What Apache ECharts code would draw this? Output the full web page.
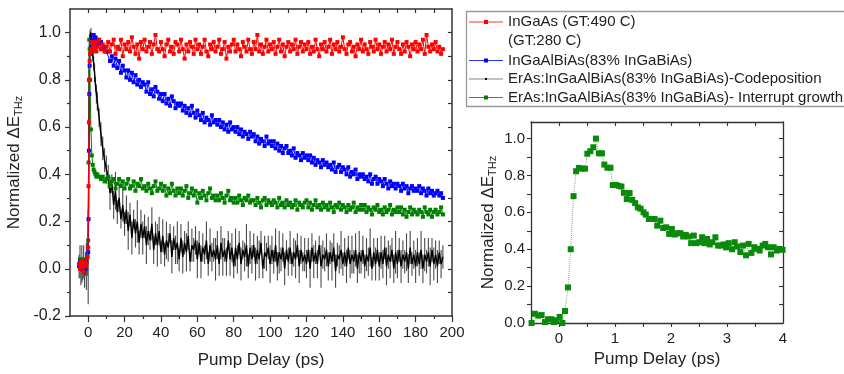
<!DOCTYPE html>
<html><head><meta charset="utf-8">
<script src="https://cdn.jsdelivr.net/npm/echarts@6/dist/echarts.min.js"></script>
<style>html,body{margin:0;padding:0;background:#fff}#c{width:844px;height:374px}</style>
</head><body><div id="c"></div>
<script>
// ---------- data ----------
const tMain = [-5,-4.5,-4,-3.5,-3,-2.5,-2,-1.5,-1,-0.5,0,0.2,0.4,0.6,0.8,1,1.5,2,2.5,3,3.5,4,4.5,5,6,7,8,9,10,
11,12,13,14,15,16,17,18,19,20,21,22,23,24,25,26,27,28,29,30,31,32,33,34,35,36,37,38,39,40,
41,42,43,44,45,46,47,48,49,50,51,52,53,54,55,56,57,58,59,60,61,62,63,64,65,66,67,68,69,70,
71,72,73,74,75,76,77,78,79,80,81,82,83,84,85,86,87,88,89,90,91,92,93,94,95,96,97,98,99,100,
101,102,103,104,105,106,107,108,109,110,111,112,113,114,115,116,117,118,119,120,
121,122,123,124,125,126,127,128,129,130,131,132,133,134,135,136,137,138,139,140,
141,142,143,144,145,146,147,148,149,150,151,152,153,154,155,156,157,158,159,160,
161,162,163,164,165,166,167,168,169,170,171,172,173,174,175,176,177,178,179,180,
181,182,183,184,185,186,187,188,189,190,191,192,193,194,195];

const redInGaAs = [0.02,0.00,0.03,0.01,0.02,-0.01,0.03,0.01,0.02,0.05,0.09,0.35,0.62,0.80,0.88,0.91,0.93,0.96,0.92,0.95,0.93,0.96,0.92,0.94,0.97,0.93,0.95,0.92,0.94,
0.96,0.92,0.95,0.97,0.91,0.94,0.93,0.97,0.90,0.95,
0.93,0.96,0.92,0.98,0.94,0.91,0.95,0.89,0.96,0.93,
0.97,0.92,0.94,0.96,0.91,0.95,0.99,0.93,0.92,0.96,
0.93,0.90,0.95,0.97,0.92,0.94,0.91,0.96,0.95,0.92,
0.97,0.93,0.89,0.95,0.92,0.96,0.94,0.91,0.97,0.93,
0.95,0.91,0.94,0.97,0.92,0.90,0.95,0.93,0.96,0.92,
0.94,0.97,0.91,0.93,0.96,0.89,0.94,0.92,0.95,0.97,
0.92,0.95,0.93,0.90,0.96,0.94,0.92,0.97,0.93,0.91,
0.96,0.93,0.99,0.92,0.95,0.91,0.94,0.97,0.92,0.95,
0.93,0.96,0.91,0.94,0.97,0.92,0.95,0.90,0.94,0.96,
0.92,0.95,0.93,0.97,0.91,0.94,0.96,0.92,0.95,0.93,
0.96,0.91,0.94,0.92,0.97,0.93,0.90,0.95,0.93,0.96,
0.92,0.94,0.97,0.91,0.95,0.93,0.96,0.92,0.94,0.98,
0.93,0.91,0.95,0.96,0.92,0.94,0.90,0.95,0.93,0.97,
0.92,0.95,0.93,0.91,0.96,0.94,0.92,0.97,0.93,0.95,
0.91,0.94,0.96,0.92,0.95,0.93,0.97,0.91,0.94,0.96,
0.93,0.91,0.95,0.92,0.96,0.94,0.90,0.95,0.93,0.96,
0.92,0.95,0.93,0.97,0.91,0.99,0.94,0.92,0.95,0.93,
0.96,0.92,0.94,0.91,0.93];

const blueInGaAlBiAs = [0.01,0.03,0.00,0.02,0.01,0.03,0.02,0.00,0.03,0.05,0.07,0.21,0.50,0.74,0.86,0.91,0.94,0.97,0.95,0.99,0.96,0.98,0.95,0.97,0.95,0.96,0.93,0.94,0.92,
0.92,0.88,0.90,0.86,0.89,0.85,0.88,0.83,0.86,0.84,
0.81,0.84,0.80,0.83,0.79,0.82,0.78,0.80,0.77,0.79,
0.78,0.75,0.79,0.74,0.76,0.73,0.77,0.75,0.72,0.74,
0.71,0.74,0.70,0.72,0.69,0.73,0.71,0.68,0.70,0.69,
0.70,0.67,0.69,0.66,0.68,0.65,0.69,0.66,0.64,0.67,
0.65,0.63,0.66,0.62,0.64,0.63,0.61,0.65,0.62,0.63,
0.61,0.63,0.60,0.62,0.59,0.61,0.58,0.62,0.59,0.60,
0.58,0.60,0.57,0.59,0.56,0.58,0.57,0.55,0.58,0.56,
0.57,0.54,0.56,0.53,0.55,0.54,0.52,0.56,0.53,0.54,
0.52,0.54,0.51,0.53,0.50,0.52,0.49,0.51,0.52,0.49,
0.50,0.48,0.51,0.47,0.49,0.48,0.46,0.49,0.47,0.48,
0.46,0.48,0.45,0.47,0.44,0.46,0.45,0.43,0.46,0.44,
0.45,0.43,0.44,0.42,0.45,0.41,0.43,0.44,0.41,0.43,
0.42,0.40,0.43,0.39,0.41,0.40,0.42,0.38,0.40,0.39,
0.40,0.38,0.39,0.37,0.40,0.36,0.38,0.39,0.36,0.38,
0.37,0.35,0.38,0.36,0.34,0.37,0.35,0.36,0.34,0.36,
0.35,0.33,0.36,0.34,0.35,0.32,0.34,0.35,0.33,0.34,
0.33,0.35,0.32,0.34,0.33,0.31,0.34,0.32,0.33,0.31,
0.32,0.33,0.31,0.32,0.30];

const blackCodeposition = [0.01,0.03,-0.01,0.02,0.00,0.03,-0.02,0.02,0.01,0.04,0.05,0.30,0.60,0.85,0.95,0.99,1.00,0.96,0.91,0.87,0.83,0.78,0.74,0.71,0.64,0.57,0.51,0.46,0.42,
0.39,0.32,0.36,0.27,0.33,0.24,0.30,0.21,0.27,0.19,
0.25,0.16,0.23,0.13,0.21,0.15,0.20,0.11,0.19,0.13,
0.18,0.10,0.16,0.12,0.19,0.08,0.15,0.10,0.16,0.07,
0.14,0.06,0.12,0.09,0.15,0.05,0.13,0.08,0.11,0.04,
0.13,0.05,0.11,0.07,0.14,0.03,0.10,0.08,0.12,0.04,
0.11,0.03,0.09,0.06,0.12,0.02,0.10,0.05,0.08,0.04,
0.10,0.02,0.11,0.05,0.08,0.03,0.12,0.04,0.09,0.01,
0.09,0.04,0.11,0.02,0.08,0.05,0.10,0.01,0.09,0.04,
0.10,0.02,0.08,0.04,0.11,0.00,0.07,0.05,0.09,0.02,
0.08,0.03,0.10,0.01,0.07,0.04,0.09,0.00,0.08,0.03,
0.09,0.02,0.07,0.04,0.10,0.01,0.08,0.03,0.06,0.02,
0.08,0.00,0.09,0.03,0.07,0.02,0.10,0.01,0.06,0.04,
0.08,0.01,0.07,0.03,0.09,-0.01,0.06,0.04,0.08,0.02,
0.07,0.01,0.09,0.02,0.06,0.03,0.08,0.00,0.07,0.03,
0.08,0.01,0.06,0.03,0.09,0.00,0.07,0.02,0.08,0.01,
0.07,0.02,0.09,0.01,0.06,0.03,0.08,0.00,0.07,0.02,
0.08,0.01,0.06,0.03,0.07,0.00,0.09,0.02,0.06,0.01,
0.07,0.02,0.08,0.00,0.06,0.03,0.07,0.01,0.08,0.02,
0.06,0.01,0.07,0.02,0.05];

const blackErr = [0.05,0.07,0.06,0.08,0.05,0.07,0.06,0.05,0.10,0.07,0.20,0.05,0.04,0.03,0.02,0.02,0.02,0.03,0.03,0.03,0.04,0.03,0.04,0.04,0.04,0.05,0.05,0.05,0.06,
0.05,0.07,0.04,0.06,0.08,0.05,0.06,0.04,0.07,0.05,0.06,0.08,0.05,0.07,0.04,0.06,0.09,0.05,0.06,0.07,
0.05,0.08,0.06,0.04,0.07,0.06,0.05,0.09,0.06,0.05,0.07,0.05,0.08,0.06,0.04,0.07,0.05,0.06,0.09,0.05,
0.06,0.07,0.05,0.08,0.06,0.04,0.07,0.05,0.06,0.08,0.05,0.07,0.06,0.04,0.08,0.05,0.07,0.06,0.05,0.09,
0.06,0.05,0.07,0.08,0.05,0.06,0.04,0.07,0.06,0.05,0.08,0.06,0.05,0.07,0.04,0.06,0.09,0.05,0.07,0.06,
0.05,0.07,0.06,0.08,0.05,0.04,0.07,0.06,0.05,0.08,0.06,0.05,0.07,0.06,0.09,0.05,0.06,0.07,0.04,0.06,
0.07,0.05,0.06,0.08,0.05,0.07,0.06,0.04,0.07,0.06,0.05,0.08,0.06,0.07,0.05,0.06,0.04,0.09,0.06,0.05,
0.07,0.06,0.05,0.08,0.06,0.07,0.05,0.06,0.08,0.05,0.06,0.07,0.05,0.06,0.08,0.05,0.07,0.06,0.09,0.05,
0.06,0.05,0.07,0.06,0.08,0.05,0.06,0.07,0.05,0.06,0.07,0.06,0.05,0.08,0.06,0.07,0.05,0.06,0.09,0.06,
0.05,0.07,0.06,0.05,0.08,0.06,0.07,0.05,0.06,0.07,0.06,0.05,0.08,0.06,0.07,0.05,0.06,0.08,0.05,0.07,
0.06,0.07,0.05,0.06,0.05];

const greenInterrupt = [0.02,0.04,0.01,0.03,0.00,0.02,0.04,0.01,0.03,0.05,0.12,0.45,0.80,0.97,0.93,0.80,0.59,0.48,0.44,0.42,0.41,0.40,0.39,0.40,0.39,0.38,0.39,0.37,0.38,
0.39,0.35,0.37,0.38,0.34,0.36,0.38,0.35,0.37,0.34,
0.36,0.38,0.34,0.35,0.37,0.33,0.36,0.35,0.38,0.34,
0.35,0.33,0.36,0.34,0.32,0.35,0.37,0.33,0.34,0.36,
0.33,0.35,0.31,0.34,0.32,0.36,0.33,0.31,0.34,0.32,
0.34,0.31,0.33,0.35,0.30,0.32,0.34,0.31,0.33,0.28,
0.32,0.30,0.33,0.31,0.29,0.32,0.34,0.30,0.31,0.29,
0.31,0.29,0.32,0.30,0.28,0.31,0.33,0.29,0.30,0.28,
0.30,0.28,0.31,0.29,0.27,0.30,0.29,0.31,0.28,0.29,
0.29,0.27,0.30,0.28,0.26,0.29,0.30,0.27,0.29,0.28,
0.27,0.29,0.28,0.26,0.30,0.27,0.28,0.26,0.29,0.27,
0.28,0.26,0.27,0.29,0.25,0.28,0.27,0.26,0.28,0.29,
0.26,0.28,0.25,0.27,0.29,0.26,0.27,0.25,0.28,0.26,
0.27,0.25,0.28,0.26,0.24,0.27,0.26,0.28,0.25,0.27,
0.26,0.24,0.27,0.25,0.26,0.28,0.24,0.26,0.25,0.27,
0.25,0.27,0.24,0.26,0.25,0.23,0.26,0.25,0.27,0.24,
0.25,0.23,0.26,0.24,0.25,0.27,0.23,0.25,0.24,0.26,
0.24,0.26,0.23,0.25,0.22,0.24,0.26,0.23,0.25,0.24,
0.23,0.25,0.24,0.22,0.26,0.24,0.23,0.25,0.22,0.24,
0.25,0.23,0.24,0.26,0.23];

const tInset = [-0.49,-0.43,-0.37,-0.31,-0.25,-0.196,-0.136,-0.09,-0.047,0.013,0.06,0.107,0.16,0.209,0.26,0.305,0.355,0.41,0.464,0.506,0.56,0.613,0.66,0.713,0.767,0.81,0.865,0.92,0.96,1.015,1.065,1.115,1.159,1.21,1.26,1.308,1.36,1.408,1.456,1.51,1.55,1.604,1.652,1.706,1.754,1.81,1.86,1.914,1.967,2.015,2.068,2.121,2.169,2.217,2.264,2.312,2.36,2.407,2.455,2.503,2.556,2.6,2.645,2.692,2.74,2.793,2.841,2.888,2.941,2.984,3.03,3.09,3.137,3.18,3.239,3.287,3.34,3.387,3.435,3.489,3.536,3.583,3.636,3.684,3.732,3.786,3.833,3.892,3.934,3.993];
const vInset = [0.0,0.05,0.04,0.043,0.005,0.02,0.02,0.005,0.015,0.033,0.0,0.065,0.193,0.40,0.688,0.823,0.841,0.837,0.837,0.918,0.932,0.953,1.0,0.92,0.92,0.859,0.842,0.842,0.748,0.749,0.744,0.74,0.706,0.672,0.705,0.668,0.65,0.627,0.62,0.60,0.588,0.564,0.564,0.564,0.528,0.555,0.515,0.519,0.483,0.51,0.48,0.487,0.487,0.469,0.478,0.469,0.433,0.474,0.433,0.438,0.465,0.433,0.456,0.426,0.438,0.465,0.42,0.42,0.426,0.41,0.433,0.40,0.438,0.415,0.385,0.42,0.367,0.429,0.38,0.411,0.402,0.393,0.42,0.429,0.411,0.372,0.411,0.393,0.402,0.397];

const legendLabels = ['InGaAs (GT:490 C)','(GT:280 C)','InGaAlBiAs(83% InGaBiAs)','ErAs:InGaAlBiAs(83% InGaBiAs)-Codeposition','ErAs:InGaAlBiAs(83% InGaBiAs)- Interrupt growth'];
const xMainLabels = [0,20,40,60,80,100,120,140,160,180,200];
const xMainMinor = [10,30,50,70,90,110,130,150,170,190];
const xMainTop = [0,10,20,30,40,50,60,70,80,90,100,110,120,130,140,150,160,170,180,190];
const yMainLabels = [-0.2,0,0.2,0.4,0.6,0.8,1.0];
const yMainMinor = [-0.1,0.1,0.3,0.5,0.7,0.9];
const yMainRight = [-0.1,0,0.1,0.2,0.3,0.4,0.5,0.6,0.7,0.8,0.9,1.0];
const xInsetLabels = [0,1,2,3,4];
const xInsetTicks = [0,0.5,1,1.5,2,2.5,3,3.5];
const yInsetLabels = [0,0.2,0.4,0.6,0.8,1.0];
const yInsetTicks = [0.1,0.2,0.3,0.4,0.5,0.6,0.7,0.8,0.9,1.0];

// ---------- chart ----------
const FONT = "'Liberation Sans', Arial, sans-serif";
const AX = '#333';
const TXT = '#222';
const chart = echarts.init(document.getElementById('c'), null, {renderer: 'canvas'});

function ax(grid, min, max, pos, opts) {
  return Object.assign({
    type: 'value', gridIndex: grid, min, max, position: pos,
    axisLine: {show: false, onZero: false},
    axisTick: {show: false}, axisLabel: {show: false}, splitLine: {show: false}
  }, opts);
}
const lineS = (w) => ({show: true, onZero: false, lineStyle: {color: AX, width: w}});
const nameRich = {
  a: {fontSize: 17, fontFamily: FONT, color: TXT},
  b: {fontSize: 11, fontFamily: FONT, color: TXT, padding: [9, 0, 0, 0]}
};

const xAxes = [
  ax(0, -10, 200, 'bottom', {
    axisLine: lineS(1.5),
    axisTick: {show: true, length: 6, customValues: xMainLabels, lineStyle: {color: AX, width: 1.2}},
    axisLabel: {show: true, customValues: xMainLabels, margin: 9, fontSize: 15, fontFamily: FONT, color: TXT},
    name: 'Pump Delay (ps)', nameLocation: 'middle', nameGap: 36,
    nameTextStyle: {fontSize: 17, fontFamily: FONT, color: TXT}
  }),
  ax(0, -10, 200, 'bottom', {
    axisTick: {show: true, length: 3, customValues: xMainMinor, lineStyle: {color: AX, width: 1.2}}
  }),
  ax(0, -10, 200, 'top', {
    axisLine: lineS(1.5),
    axisTick: {show: true, inside: true, length: 4, customValues: xMainTop, lineStyle: {color: AX, width: 1.2}}
  }),
  ax(1, -0.5, 4, 'bottom', {
    axisLine: lineS(1.3),
    axisTick: {show: true, length: 4, customValues: xInsetTicks, lineStyle: {color: AX, width: 1.1}},
    axisLabel: {show: true, customValues: xInsetLabels, margin: 8, fontSize: 15, fontFamily: FONT, color: TXT},
    name: 'Pump Delay (ps)', nameLocation: 'middle', nameGap: 25,
    nameTextStyle: {fontSize: 17, fontFamily: FONT, color: TXT}
  }),
  ax(1, -0.5, 4, 'top', {
    axisLine: lineS(1.3),
    axisTick: {show: true, inside: true, length: 4, customValues: xInsetTicks, lineStyle: {color: AX, width: 1.1}}
  })
];
const yAxes = [
  ax(0, -0.2, 1.1, 'left', {
    axisLine: lineS(1.5),
    axisTick: {show: true, length: 5, customValues: yMainLabels, lineStyle: {color: AX, width: 1.2}},
    axisLabel: {show: true, customValues: yMainLabels, margin: 9, fontSize: 16, fontFamily: FONT, color: TXT,
      formatter: v => v.toFixed(1)},
    name: '{a|Normalized ΔE}{b|THz}', nameLocation: 'middle', nameGap: 46, nameRotate: 90,
    nameTextStyle: {rich: nameRich}
  }),
  ax(0, -0.2, 1.1, 'left', {
    axisTick: {show: true, length: 3, customValues: yMainMinor, lineStyle: {color: AX, width: 1.2}}
  }),
  ax(0, -0.2, 1.1, 'right', {
    axisLine: lineS(1.5),
    axisTick: {show: true, inside: true, length: 4, customValues: yMainRight, lineStyle: {color: AX, width: 1.2}}
  }),
  ax(1, 0, 1.09, 'left', {
    axisLine: lineS(1.3),
    axisTick: {show: true, length: 4, customValues: yInsetTicks, lineStyle: {color: AX, width: 1.1}},
    axisLabel: {show: true, customValues: yInsetLabels, margin: 6, fontSize: 15, fontFamily: FONT, color: TXT,
      formatter: v => v.toFixed(1)},
    name: '{a|Normalized ΔE}{b|THz}', nameLocation: 'middle', nameGap: 33, nameRotate: 90,
    nameTextStyle: {rich: nameRich}
  }),
  ax(1, 0, 1.09, 'right', {
    axisLine: lineS(1.3),
    axisTick: {show: true, inside: true, length: 4, customValues: yInsetTicks, lineStyle: {color: AX, width: 1.1}}
  })
];

const pairs = (ys) => tMain.map((t, i) => [t, ys[i]]);
function scatterLine(name, ys, color, z) {
  return {
    name, type: 'line', xAxisIndex: 0, yAxisIndex: 0, data: pairs(ys),
    symbol: 'rect', symbolSize: 4, showSymbol: true, z,
    itemStyle: {color}, lineStyle: {color, width: 1}, animation: false
  };
}

const legendRows = [
  {y: 22, color: '#ff0000', text: legendLabels[0], marker: true, line: true},
  {y: 41, color: null, text: legendLabels[1], marker: false, line: false},
  {y: 60.5, color: '#0000ff', text: legendLabels[2], marker: true, line: true},
  {y: 79, color: '#666', text: legendLabels[3], marker: false, line: true},
  {y: 97.5, color: '#008000', text: legendLabels[4], marker: true, line: true}
];
const legendGraphics = [{
  type: 'rect', shape: {x: 466.5, y: 11.5, width: 420, height: 95},
  style: {fill: '#fff', stroke: '#9a9a9a', lineWidth: 1.3}, z: 10
}];
legendRows.forEach(r => {
  if (r.line) legendGraphics.push({type: 'line', shape: {x1: 469, y1: r.y, x2: 503, y2: r.y},
    style: {stroke: r.color, lineWidth: 1, opacity: 0.8}, z: 11});
  if (r.marker) legendGraphics.push({type: 'rect', shape: {x: 484, y: r.y - 2, width: 4, height: 4},
    style: {fill: r.color}, z: 12});
  if (!r.marker && r.line) legendGraphics.push({type: 'rect', shape: {x: 485, y: r.y - 1, width: 2, height: 2},
    style: {fill: '#000'}, z: 12});
  legendGraphics.push({type: 'text', x: 508, y: r.y, z: 12,
    style: {text: r.text, fontSize: 15, fontFamily: FONT, fill: TXT, verticalAlign: 'middle'}});
});

chart.setOption({
  animation: false,
  backgroundColor: '#fff',
  grid: [
    {left: 70, top: 9, width: 382, height: 309},
    {left: 531, top: 122, width: 252, height: 201}
  ],
  xAxis: xAxes,
  yAxis: yAxes,
  series: [
    {
      name: 'err', type: 'custom', xAxisIndex: 0, yAxisIndex: 0, z: 1,
      data: tMain.map((t, i) => [t, blackCodeposition[i], blackErr[i]]),
      encode: {x: 0, y: 1},
      renderItem: (params, api) => {
        const x = api.value(0), v = api.value(1), e = api.value(2);
        const p1 = api.coord([x, v + e]), p2 = api.coord([x, v - e]);
        return {type: 'line', shape: {x1: p1[0], y1: p1[1], x2: p2[0], y2: p2[1]},
          style: {stroke: '#4a4a4a', lineWidth: 1.1}};
      },
      animation: false
    },
    {
      name: legendLabels[3], type: 'line', xAxisIndex: 0, yAxisIndex: 0, data: pairs(blackCodeposition),
      symbol: 'none', z: 2, lineStyle: {color: '#000', width: 1.4}, animation: false
    },
    scatterLine(legendLabels[4], greenInterrupt, '#008000', 3),
    scatterLine(legendLabels[2], blueInGaAlBiAs, '#0000ff', 5),
    scatterLine(legendLabels[0], redInGaAs, '#ff0000', 6),
    {
      name: 'inset', type: 'line', xAxisIndex: 3, yAxisIndex: 3,
      data: tInset.map((t, i) => [t, vInset[i]]),
      symbol: 'rect', symbolSize: 6, showSymbol: true,
      itemStyle: {color: '#0a8a0a'}, lineStyle: {color: '#6fbf6f', width: 1, type: 'dotted'},
      animation: false
    }
  ],
  graphic: legendGraphics
});
</script>
</body></html>
